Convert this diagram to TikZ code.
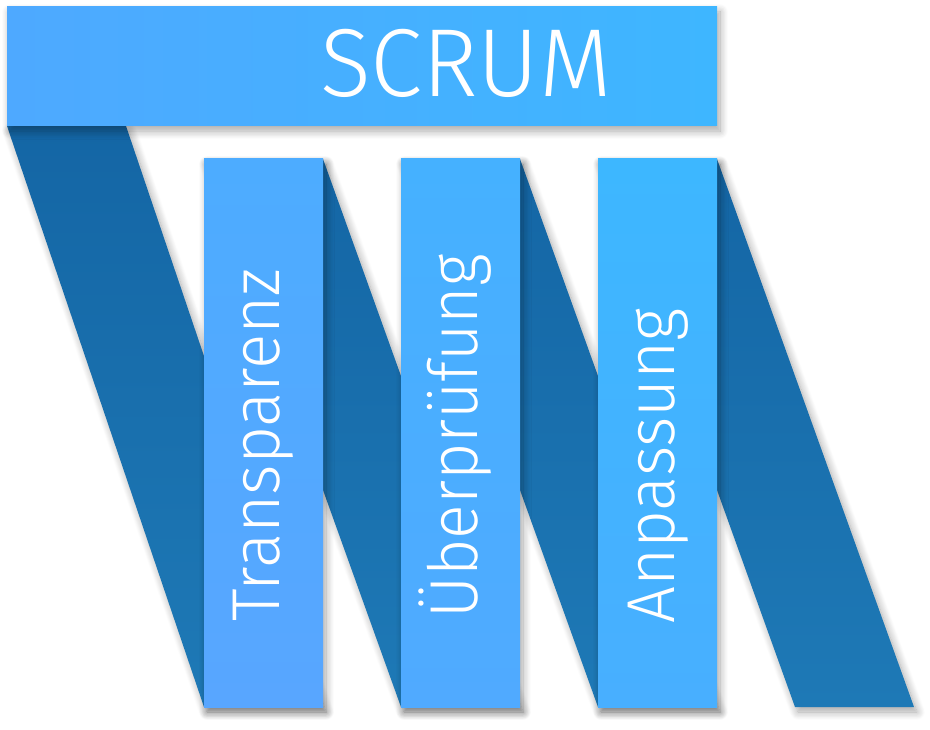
\documentclass[tikz,border=0pt]{standalone}
\usepackage{fontspec}
\newfontfamily\thinfont{Fira Sans Light}
\usetikzlibrary{shadows.blur}
\definecolor{bandtop}{HTML}{1466A5}
\definecolor{bandbot}{HTML}{1E79B6}
\definecolor{barleft}{HTML}{4EA9FF}
\definecolor{barright}{HTML}{3EB6FF}
\definecolor{colAtop}{HTML}{4DACFF}
\definecolor{colAbot}{HTML}{58A6FF}
\definecolor{colBtop}{HTML}{45B1FF}
\definecolor{colBbot}{HTML}{50AAFF}
\definecolor{colCtop}{HTML}{3DB7FF}
\definecolor{colCbot}{HTML}{48AFFF}
\newcommand{\narrow}[2]{\scalebox{#1}[1]{#2}}
\begin{document}
\begin{tikzpicture}[x=1bp,y=-1bp,
  softshadow/.style={blur shadow={shadow xshift=3bp, shadow yshift=-5bp, shadow blur radius=8bp, shadow blur steps=14, shadow opacity=35}},
  bandshape/.style={top color=bandtop, bottom color=bandbot, draw=none, softshadow},
  colshape/.style={top color=col#1top, bottom color=col#1bot, draw=none, softshadow},
  barshape/.style={left color=barleft, right color=barright, draw=none, softshadow},
  vlabel/.style={anchor=base west, rotate=90, text=white, inner sep=0pt, font=\thinfont\fontsize{68}{80}\selectfont},
  title/.style={anchor=base west, text=white, inner sep=0pt, font=\thinfont\fontsize{97}{110}\selectfont}]
\useasboundingbox (0,0) rectangle (930,730);
% bands
\path[bandshape] (598,159) -- (717,159) -- (914,707) -- (795,707) -- cycle;
\path[bandshape] (401,159) -- (520,159) -- (717,707) -- (598,707) -- cycle;
\path[bandshape] (204,159) -- (323,159) -- (520,707) -- (401,707) -- cycle;
\path[bandshape] (7,126) -- (126,126) -- (323,707) -- (204,707) -- cycle;
% top bar
\path[barshape] (7,7) rectangle (717,126);
\node[title] (scrum) at (320,97) {\narrow{0.975}{SCRUM}};
% columns
\path[colshape=A] (204,159) rectangle (323,707);
\path[colshape=B] (401,159) rectangle (520,707);
\path[colshape=C] (598,159) rectangle (717,707);
\node[vlabel] (t1) at (279,622) {\narrow{0.97}{Transparenz}};
\node[vlabel] (t2) at (477,619) {\narrow{0.95}{Überprüfung}};
\node[vlabel] (t3) at (674,624) {\narrow{0.965}{Anpassung}};
\end{tikzpicture}
\end{document}
